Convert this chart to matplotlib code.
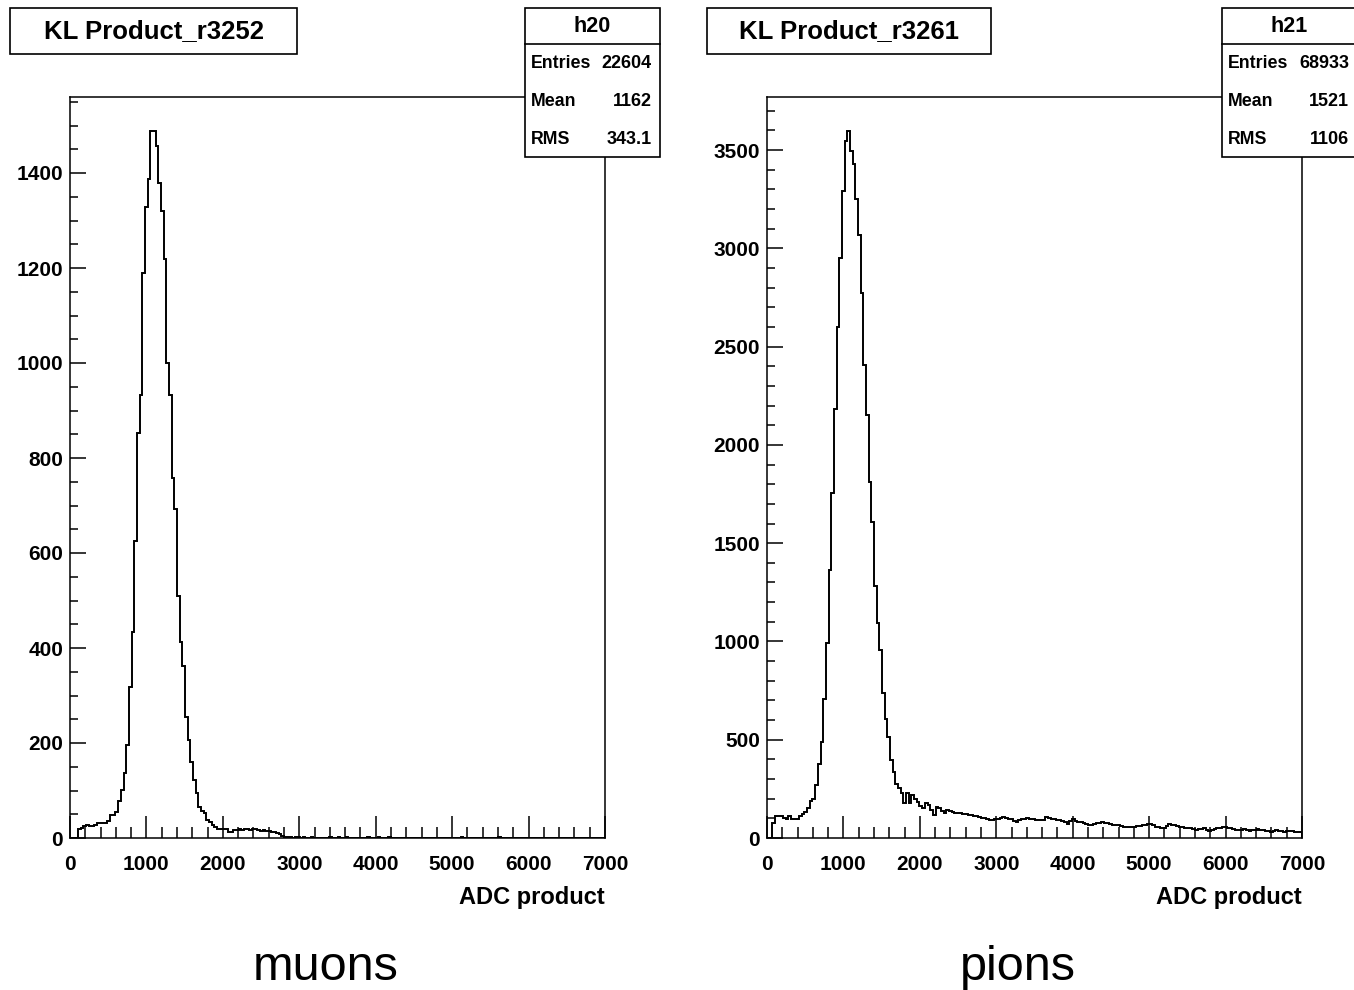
import numpy as np
import matplotlib
matplotlib.use("Agg")
import matplotlib.pyplot as plt
from matplotlib.patches import Rectangle
from matplotlib.ticker import MultipleLocator

plt.rcParams["font.family"] = ["Liberation Sans", "DejaVu Sans"]
plt.rcParams["font.weight"] = "bold"

# ADC product histograms, 200 bins of width 35 from 0 to 7000
bin_edges = np.linspace(0, 7000, 201)

muon_counts = [
    0, 0, 0, 20, 22, 25, 27, 25, 25, 28,
    32, 32, 32, 32, 36, 48, 48, 55, 78, 102,
    136, 196, 317, 434, 625, 852, 932, 1189, 1328, 1387,
    1489, 1489, 1456, 1379, 1320, 1218, 999, 932, 758, 692,
    510, 413, 362, 254, 206, 161, 123, 94, 65, 57,
    52, 38, 34, 27, 24, 20, 20, 19, 18, 13,
    13, 17, 17, 18, 17, 18, 18, 17, 18, 18,
    17, 15, 16, 15, 14, 12, 12, 11, 8, 4,
    3, 2, 2, 1, 3, 2, 1, 2, 1, 1,
    2, 1, 1, 1, 0, 0, 1, 2, 1, 1,
    2, 1, 1, 2, 1, 1, 0, 0, 0, 0,
    1, 2, 1, 1, 1, 2, 1, 1, 1, 2,
    1, 1, 1, 1, 0, 0, 1, 1, 1, 1,
    0, 0, 0, 0, 0, 0, 0, 1, 1, 1,
    0, 0, 0, 0, 0, 0, 2, 0, 0, 0,
    0, 0, 0, 0, 0, 0, 0, 0, 0, 1,
    2, 1, 1, 0, 0, 0, 0, 0, 0, 0,
    0, 0, 0, 0, 0, 0, 0, 0, 0, 0,
    0, 0, 0, 0, 0, 0, 0, 0, 0, 0,
    0, 0, 0, 0, 0, 0, 0, 0, 0, 0,
]

pion_counts = [
    0, 0, 75, 112, 112, 110, 100, 95, 112, 95,
    96, 95, 110, 122, 134, 151, 188, 196, 269, 379,
    490, 705, 990, 1366, 1753, 2181, 2601, 2949, 3293, 3547,
    3598, 3497, 3429, 3251, 3067, 2771, 2406, 2152, 1813, 1609,
    1282, 1092, 956, 736, 604, 515, 397, 337, 275, 253,
    227, 176, 227, 176, 219, 197, 185, 163, 151, 176,
    168, 143, 117, 160, 151, 139, 126, 142, 138, 134,
    128, 125, 129, 124, 122, 119, 117, 114, 111, 108,
    104, 100, 97, 92, 94, 95, 99, 102, 105, 100,
    96, 95, 89, 83, 90, 95, 98, 100, 97, 95,
    93, 94, 92, 92, 105, 100, 96, 95, 93, 92,
    86, 80, 71, 88, 95, 86, 83, 79, 75, 70,
    66, 68, 72, 75, 78, 83, 78, 74, 71, 68,
    66, 64, 60, 54, 56, 57, 58, 58, 60, 61,
    64, 67, 70, 71, 64, 58, 55, 52, 49, 60,
    71, 68, 66, 62, 58, 55, 52, 50, 49, 45,
    41, 44, 47, 49, 42, 37, 42, 46, 49, 53,
    58, 54, 51, 49, 45, 41, 40, 43, 44, 40,
    37, 39, 42, 44, 42, 41, 37, 34, 32, 37,
    41, 38, 35, 32, 35, 37, 35, 33, 32, 32,
]

titles = ["KL Product_r3252", "KL Product_r3261"]
hist_names = ["h20", "h21"]
stat_labels = ["Entries", "Mean", "RMS"]
muon_stats = ["22604", "1162", "343.1"]
pion_stats = ["68933", "1521", "1106"]
captions = ["muons", "pions"]
x_label = "ADC product"

W, H = 1354, 990
fig = plt.figure(figsize=(W / 100, H / 100), dpi=100)
fig.patch.set_facecolor("white")


def fx(px):
    return px / W


def fy(py):
    return 1 - py / H


def box(x0, y0, x1, y1, lw=1.2, z=5):
    r = Rectangle((fx(x0), fy(y1)), fx(x1) - fx(x0), fy(y0) - fy(y1),
                  transform=fig.transFigure, facecolor="white",
                  edgecolor="black", linewidth=lw, zorder=z, clip_on=False)
    fig.add_artist(r)


def hline(x0, x1, y, lw=1.2, z=6):
    fig.add_artist(plt.Line2D([fx(x0), fx(x1)], [fy(y), fy(y)],
                              transform=fig.transFigure, color="black",
                              linewidth=lw, zorder=z))


panels = [
    dict(left=70, counts=muon_counts, ymax=1560, ymaj=200, ymin=50,
         title=titles[0], name=hist_names[0], stats=muon_stats,
         tbox=(10, 297), sbox=(525, 660), caption=captions[0], cap_x=326),
    dict(left=767, counts=pion_counts, ymax=3770, ymaj=500, ymin=100,
         title=titles[1], name=hist_names[1], stats=pion_stats,
         tbox=(707, 991), sbox=(1222, 1357), caption=captions[1], cap_x=1018),
]

top, bottom, width = 97, 838, 535
for p in panels:
    ax = fig.add_axes([fx(p["left"]), fy(bottom), width / W, (bottom - top) / H])
    ax.stairs(p["counts"], bin_edges, color="black", linewidth=1.4)
    ax.set_xlim(0, 7000)
    ax.set_ylim(0, p["ymax"])
    ax.xaxis.set_major_locator(MultipleLocator(1000))
    ax.xaxis.set_minor_locator(MultipleLocator(200))
    ax.yaxis.set_major_locator(MultipleLocator(p["ymaj"]))
    ax.yaxis.set_minor_locator(MultipleLocator(p["ymin"]))
    for s in ax.spines.values():
        s.set_linewidth(1.1)
    ax.tick_params(axis="x", which="major", direction="in", length=15.5,
                   width=1.1, labelsize=15, pad=12)
    ax.tick_params(axis="x", which="minor", direction="in", length=7.8,
                   width=1.1)
    ax.tick_params(axis="y", which="major", direction="in", length=11.5,
                   width=1.1, labelsize=15, pad=5)
    ax.tick_params(axis="y", which="minor", direction="in", length=6,
                   width=1.1)
    ax.set_xlabel(x_label, fontsize=17, fontweight="bold", loc="right",
                  labelpad=9)

    # title box
    x0, x1 = p["tbox"]
    box(x0, 8, x1, 54)
    fig.text(fx((x0 + x1) / 2), fy(31), p["title"], ha="center", va="center",
             fontsize=18.5, fontweight="bold", zorder=7)

    # statistics box
    s0, s1 = p["sbox"]
    box(s0, 8, s1, 157)
    hline(s0, s1, 44)
    fig.text(fx((s0 + s1) / 2), fy(27), p["name"], ha="center", va="center",
             fontsize=15.5, fontweight="bold", zorder=7)
    for lab, val, yy in zip(stat_labels, p["stats"], [64, 102, 139]):
        fig.text(fx(s0 + 6), fy(yy), lab, ha="left", va="center",
                 fontsize=12.8, fontweight="bold", zorder=7)
        fig.text(fx(s1 - 8), fy(yy), val, ha="right", va="center",
                 fontsize=13, fontweight="bold", zorder=7)

    fig.text(fx(p["cap_x"]), fy(967), p["caption"], ha="center", va="center",
             fontsize=35, fontweight="normal")

fig.savefig("out.png", dpi=100, facecolor="white")
